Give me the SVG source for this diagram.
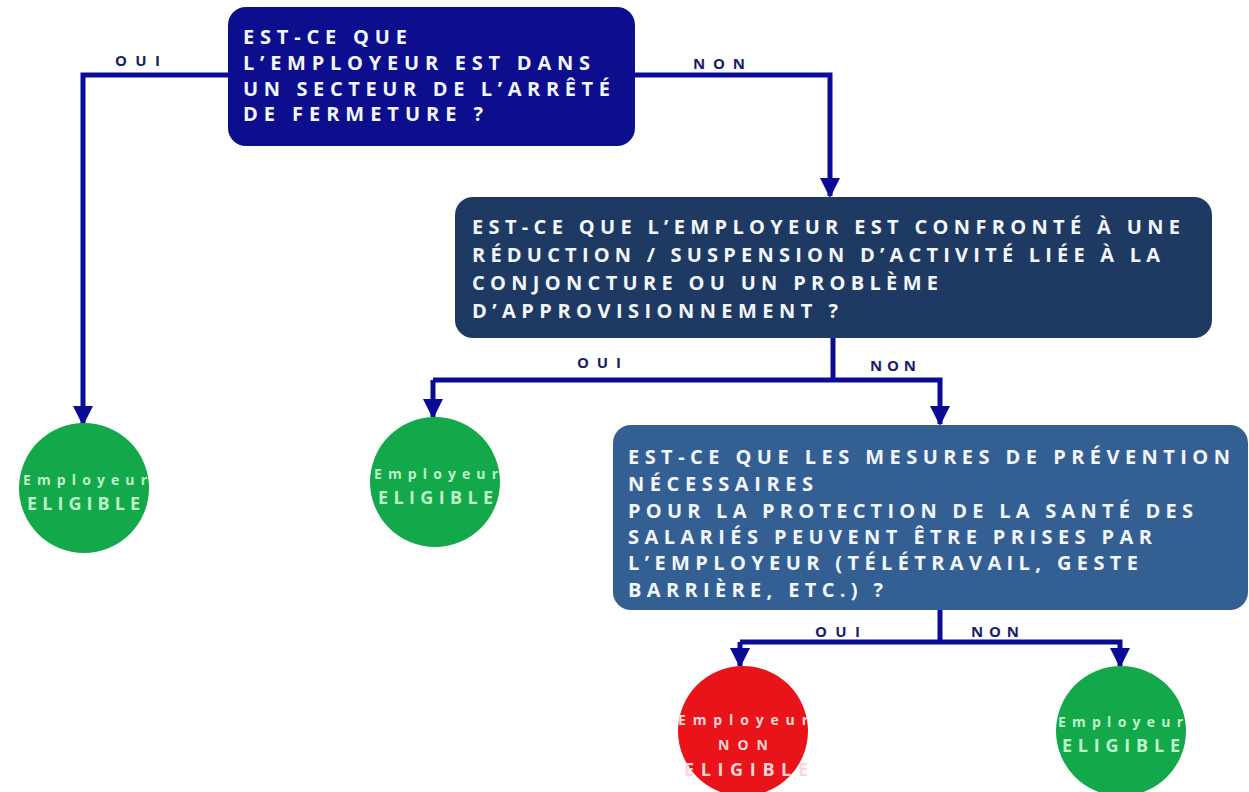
<svg xmlns="http://www.w3.org/2000/svg" width="1249" height="792" viewBox="0 0 1249 792">
<style>
.q{font-family:"Open Sans","Liberation Sans",sans-serif;font-weight:700;font-size:20px;fill:#f2f6ff}
.lbl{font-family:"Open Sans","Liberation Sans",sans-serif;font-weight:700;font-size:15px;fill:#1b1b6b}
.c{fill:none;stroke:#0b0b96;stroke-width:5}
.emp{font-family:"Open Sans","Liberation Sans",sans-serif;font-weight:700;font-size:14px}
.el{font-family:"Open Sans","Liberation Sans",sans-serif;font-weight:700;font-size:18px}
.g{fill:#13a84a}
.gt{fill:#bff3c9}
.rt{fill:#ffd6d6}
</style>
<defs>
<marker id="ah" viewBox="0 0 10 10" refX="9" refY="5" markerWidth="4" markerHeight="4.2" orient="auto" markerUnits="strokeWidth">
<path d="M0,0 L10,5 L0,10 Z" fill="#0b0b96"/>
</marker>
</defs>
<rect width="1249" height="792" fill="#ffffff"/>

<g id="connectors">
<polyline class="c" points="228,75 83,75 83,424" marker-end="url(#ah)"/>
<polyline class="c" points="635,75 830,75 830,196" marker-end="url(#ah)"/>
<line class="c" x1="833" y1="338" x2="833" y2="380"/>
<polyline class="c" points="433,380 940,380 940,424" marker-end="url(#ah)"/>
<polyline class="c" points="433,380 433,417" marker-end="url(#ah)"/>
<line class="c" x1="940" y1="610" x2="940" y2="642"/>
<polyline class="c" points="740,642 1120,642 1120,666" marker-end="url(#ah)"/>
<polyline class="c" points="740,642 740,666" marker-end="url(#ah)"/>
<text class="lbl" x="115" y="66" textLength="45" lengthAdjust="spacing">OUI</text>
<text class="lbl" x="693" y="69" textLength="52" lengthAdjust="spacing">NON</text>
<text class="lbl" x="577" y="368" textLength="44" lengthAdjust="spacing">OUI</text>
<text class="lbl" x="870" y="371" textLength="46" lengthAdjust="spacing">NON</text>
<text class="lbl" x="815" y="637" textLength="45" lengthAdjust="spacing">OUI</text>
<text class="lbl" x="971" y="637" textLength="48" lengthAdjust="spacing">NON</text>
</g>

<g id="q1">
<rect x="228" y="7" width="407" height="139" rx="18" fill="#0c0e8e"/>
<text class="q" x="243" y="44" textLength="164" lengthAdjust="spacing">EST-CE QUE</text>
<text class="q" x="243" y="70" textLength="347" lengthAdjust="spacing">L’EMPLOYEUR EST DANS</text>
<text class="q" x="243" y="96" textLength="367" lengthAdjust="spacing">UN SECTEUR DE L’ARRÊTÉ</text>
<text class="q" x="243" y="121" textLength="240" lengthAdjust="spacing">DE FERMETURE ?</text>
</g>

<g id="q2">
<rect x="455" y="197" width="757" height="141" rx="18" fill="#1f3a62"/>
<text class="q" x="472" y="234" textLength="708" lengthAdjust="spacing">EST-CE QUE L’EMPLOYEUR EST CONFRONTÉ À UNE</text>
<text class="q" x="472" y="262" textLength="688" lengthAdjust="spacing">RÉDUCTION / SUSPENSION D’ACTIVITÉ LIÉE À LA</text>
<text class="q" x="472" y="290" textLength="466" lengthAdjust="spacing">CONJONCTURE OU UN PROBLÈME</text>
<text class="q" x="472" y="318" textLength="366" lengthAdjust="spacing">D’APPROVISIONNEMENT ?</text>
</g>

<g id="q3">
<rect x="613" y="425" width="635" height="185" rx="18" fill="#345f93"/>
<text class="q" x="628" y="464" textLength="602" lengthAdjust="spacing">EST-CE QUE LES MESURES DE PRÉVENTION</text>
<text class="q" x="628" y="491" textLength="185" lengthAdjust="spacing">NÉCESSAIRES</text>
<text class="q" x="628" y="518" textLength="565" lengthAdjust="spacing">POUR LA PROTECTION DE LA SANTÉ DES</text>
<text class="q" x="628" y="544" textLength="524" lengthAdjust="spacing">SALARIÉS PEUVENT ÊTRE PRISES PAR</text>
<text class="q" x="628" y="570" textLength="510" lengthAdjust="spacing">L’EMPLOYEUR (TÉLÉTRAVAIL, GESTE</text>
<text class="q" x="628" y="597" textLength="255" lengthAdjust="spacing">BARRIÈRE, ETC.) ?</text>
</g>

<g id="r1">
<circle class="g" cx="84" cy="488" r="65"/>
<text class="emp gt" x="23" y="485" textLength="124" lengthAdjust="spacing">Employeur</text>
<text class="el gt" x="27" y="510" textLength="113" lengthAdjust="spacing">ELIGIBLE</text>
</g>

<g id="r2">
<circle class="g" cx="435" cy="482" r="65"/>
<text class="emp gt" x="374" y="479" textLength="124" lengthAdjust="spacing">Employeur</text>
<text class="el gt" x="378" y="504" textLength="115" lengthAdjust="spacing">ELIGIBLE</text>
</g>

<g id="r3">
<circle cx="743" cy="731" r="65" fill="#e8141a"/>
<text class="emp rt" x="678" y="725" textLength="130" lengthAdjust="spacing">Employeur</text>
<text class="emp rt" x="718" y="750" textLength="50" lengthAdjust="spacing">NON</text>
<text class="el rt" x="684" y="776" textLength="124" lengthAdjust="spacing">ELIGIBLE</text>
</g>

<g id="r4">
<circle class="g" cx="1121" cy="731" r="65"/>
<text class="emp gt" x="1058" y="727" textLength="125" lengthAdjust="spacing">Employeur</text>
<text class="el gt" x="1062" y="752" textLength="118" lengthAdjust="spacing">ELIGIBLE</text>
</g>
</svg>
